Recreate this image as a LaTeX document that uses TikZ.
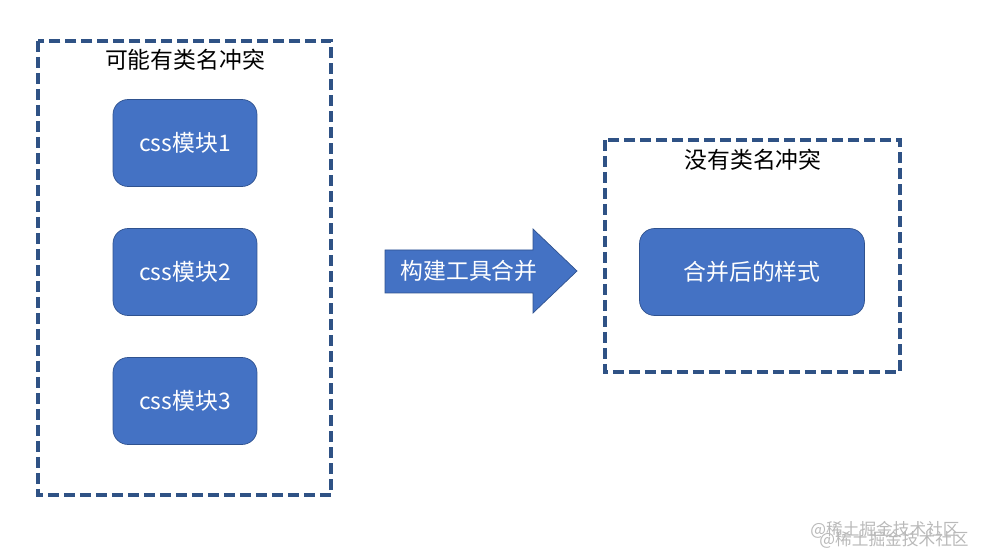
\documentclass[tikz,border=0pt]{standalone}
\usepackage{fontspec}
\setmainfont{Noto Sans CJK SC}
\usepackage{tikz}
\usetikzlibrary{positioning, calc}

\definecolor{modblue}{HTML}{4472C4}
\definecolor{modline}{HTML}{2F528F}
\definecolor{dashblue}{HTML}{2F5285}

\begin{document}
\begin{tikzpicture}[x=0.02cm, y=-0.02cm,
    groupbox/.style={draw=dashblue, line width=2pt, dash pattern=on 0.22cm off 0.1cm},
    module/.style={draw=modline, fill=modblue, rounded corners=0.3cm, text=white,
        minimum width=2.88cm, minimum height=1.74cm, font=\fontsize{13pt}{15pt}\selectfont},
    caption/.style={font=\fontsize{13pt}{15pt}\selectfont},
    watermark/.style={text=gray!55, font=\fontsize{9.5pt}{11pt}\selectfont}]
    \useasboundingbox (0,0) rectangle (981,557);
    % left group
    \draw[groupbox] (38,41) rectangle (331,495);
    \node[caption] (conflict) at (185,60) {可能有类名冲突};
    \node[module] (mod1) at (185,143) {css模块1};
    \node[module] (mod2) at (185,272) {css模块2};
    \node[module] (mod3) at (185,401) {css模块3};
    % build arrow
    \draw[draw=modline, fill=modblue] (385,250) -- (533,250) -- (533,229) -- (577,271)
        -- (533,313) -- (533,293) -- (385,293) -- cycle;
    \node[caption, text=white] (merge) at (469,271) {构建工具合并};
    % right group
    \draw[groupbox] (605,140) rectangle (900,372);
    \node[caption] (noconflict) at (753,160) {没有类名冲突};
    \node[module, minimum width=4.5cm] (merged) at (752,272) {合并后的样式};
    % watermark
    \node[watermark] (wm1) at (885,530) {@稀土掘金技术社区};
    \node[watermark] (wm2) at (894,540) {@稀土掘金技术社区};
\end{tikzpicture}
\end{document}
